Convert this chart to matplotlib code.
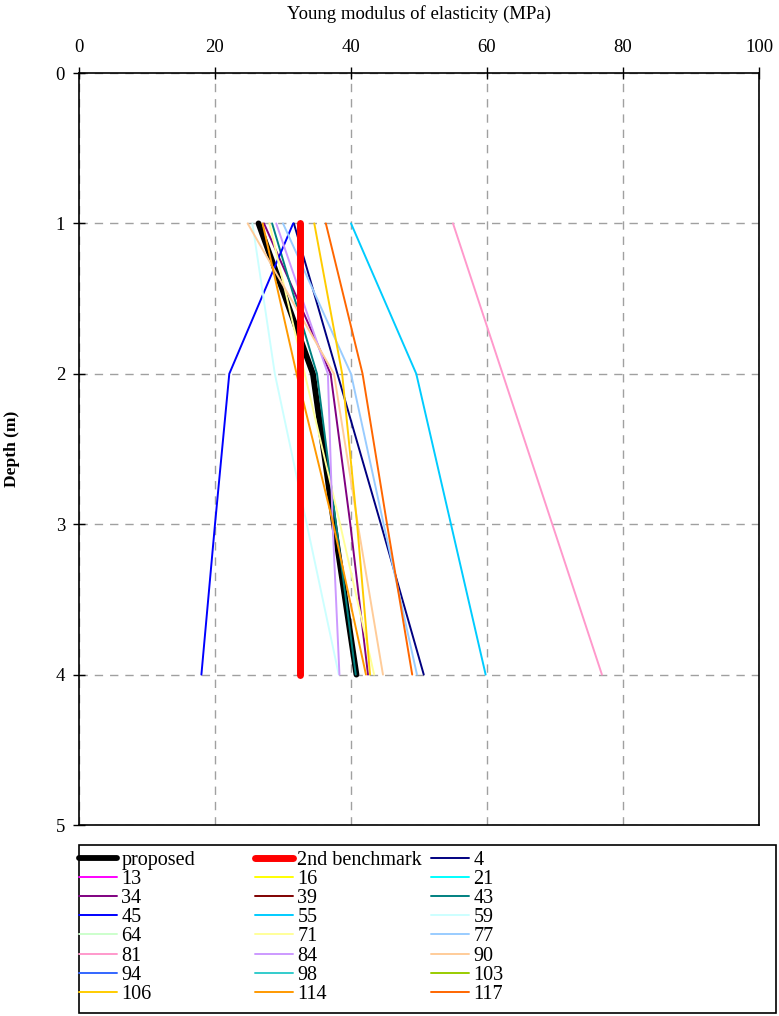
import numpy as np
import matplotlib.pyplot as plt
from matplotlib.patches import Rectangle

plt.rcParams['font.family'] = ['Liberation Serif', 'DejaVu Serif']

# depths (m) where the modulus was evaluated
depth = [1, 2, 3, 4]

# Young modulus (MPa) per series
proposed = [26.4, 34.4, 37.5, 40.8]
bench2 = [32.5, 32.5, 32.5, 32.5]
s4 = [31.6, 38.0, 44.4, 50.7]
s13 = [26.4, 34.4, 37.5, 40.8]
s16 = [26.4, 34.4, 37.5, 40.8]
s21 = [26.4, 34.4, 37.5, 40.8]
s34 = [27.2, 37.0, 39.9, 42.5]
s39 = [26.4, 34.4, 37.5, 40.8]
s43 = [28.4, 35.0, 37.8, 40.7]
s45 = [31.5, 22.1, 20.0, 18.0]
s55 = [40.0, 49.6, 54.7, 59.8]
s59 = [25.5, 28.8, 33.5, 38.2]
s64 = [26.4, 34.4, 37.5, 40.8]
s71 = [28.0, 33.2, 38.4, 43.4]
s77 = [30.0, 40.0, 44.8, 49.7]
s81 = [55.0, 62.3, 69.6, 76.9]
s84 = [29.0, 36.6, 37.3, 38.3]
s90 = [24.8, 37.5, 41.0, 44.7]
s94 = [26.4, 34.4, 37.5, 40.8]
s98 = [26.4, 34.4, 37.5, 40.8]
s103 = [26.4, 34.4, 37.5, 40.8]
s106 = [34.6, 38.7, 40.9, 42.8]
s114 = [27.0, 32.0, 37.4, 42.2]
s117 = [36.3, 41.7, 45.3, 49.0]

labels = ['proposed', '2nd benchmark', '4', '13', '16', '21', '34', '39', '43', '45',
          '55', '59', '64', '71', '77', '81', '84', '90', '94', '98', '103', '106',
          '114', '117']
series = [proposed, bench2, s4, s13, s16, s21, s34, s39, s43, s45, s55, s59, s64,
          s71, s77, s81, s84, s90, s94, s98, s103, s106, s114, s117]
colors = ['#000000', '#FF0000', '#000080', '#FF00FF', '#FFFF00', '#00FFFF',
          '#800080', '#800000', '#008080', '#0000FF', '#00CCFF', '#CCFFFF',
          '#CCFFCC', '#FFFF99', '#99CCFF', '#FF99CC', '#CC99FF', '#FFCC99',
          '#3366FF', '#33CCCC', '#99CC00', '#FFCC00', '#FF9900', '#FF6600']
# series that sit underneath the proposed curve
hidden = {'13', '16', '21', '39', '64', '94', '98', '103'}

W, H = 779, 1016
fig = plt.figure(figsize=(W / 100, H / 100), dpi=100)
ax = fig.add_axes([79 / W, (H - 825) / H, 680 / W, 752 / H])

handles = []
for lab, vals, c in zip(labels, series, colors):
    if lab == 'proposed':
        lw, z = 4.2, 3
    elif lab == '2nd benchmark':
        lw, z = 5.0, 5
    else:
        lw, z = 1.4, (2 if lab in hidden else 4)
    h, = ax.plot(vals, depth, color=c, lw=lw, zorder=z,
                 solid_capstyle='round', solid_joinstyle='round')
    handles.append(h)

ax.set_xlim(0, 100)
ax.set_ylim(5, 0)
ax.set_xticks(np.arange(0, 101, 20))
ax.set_yticks(np.arange(0, 6, 1))
ax.xaxis.tick_top()
ax.xaxis.set_label_position('top')
ax.tick_params(axis='both', direction='inout', length=8, width=1,
               labelsize=13.5, pad=6)
ax.tick_params(axis='x', pad=8)
ax.set_xlabel('Young modulus of elasticity (MPa)', fontsize=13.5, labelpad=15)
ax.set_ylabel('Depth (m)', fontsize=12.5, fontweight='bold', labelpad=26)
ax.grid(True, color='#A0A0A0', linestyle=(0, (6, 5)), linewidth=1)
for sp in ax.spines.values():
    sp.set_linewidth(1.2)

# legend: three row-major columns inside one frame
col_x = [79, 255, 431]
for k in range(3):
    leg = fig.legend(handles[k::3], labels[k::3], loc='upper left',
                     bbox_to_anchor=(col_x[k] / W, 1 - 851 / H),
                     frameon=False, fontsize=14.5, borderpad=0, borderaxespad=0,
                     handlelength=1.9, handletextpad=0.2, labelspacing=0.0)
fig.patches.append(Rectangle((79 / W, (H - 1013) / H), (776 - 79) / W,
                             (1013 - 845) / H, transform=fig.transFigure,
                             fill=False, edgecolor='black', linewidth=1.2))

plt.savefig('out.png', dpi=100)
plt.close()
